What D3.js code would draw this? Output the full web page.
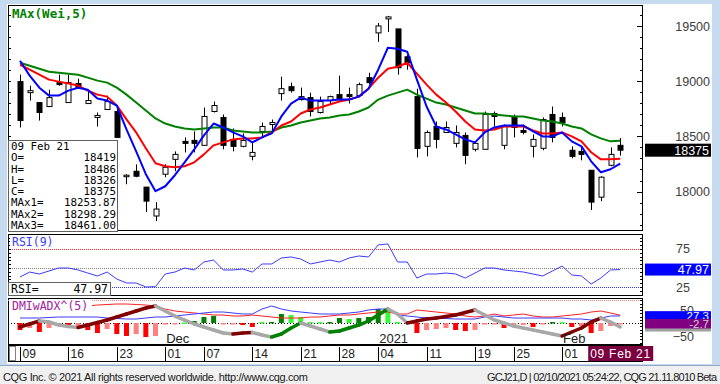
<!DOCTYPE html>
<html><head><meta charset="utf-8">
<script src="https://cdn.jsdelivr.net/npm/d3@7"></script>
<style>
html,body{margin:0;padding:0;background:#f0f0f0;overflow:hidden;}
svg{display:block;}
</style></head><body>
<svg id="c" width="720" height="384"></svg>
<script>
// ---------- DATA ----------
const dates = ["2020-11-09","2020-11-10","2020-11-11","2020-11-12","2020-11-13","2020-11-16","2020-11-17","2020-11-18","2020-11-19","2020-11-20",
"2020-11-23","2020-11-24","2020-11-25","2020-11-27","2020-11-30","2020-12-01","2020-12-02","2020-12-03","2020-12-04","2020-12-07",
"2020-12-08","2020-12-09","2020-12-10","2020-12-11","2020-12-14","2020-12-15","2020-12-16","2020-12-17","2020-12-18","2020-12-21",
"2020-12-22","2020-12-23","2020-12-24","2020-12-28","2020-12-29","2020-12-30","2020-12-31","2021-01-04","2021-01-05","2021-01-06",
"2021-01-07","2021-01-08","2021-01-11","2021-01-12","2021-01-13","2021-01-14","2021-01-15","2021-01-19","2021-01-20","2021-01-21",
"2021-01-22","2021-01-25","2021-01-26","2021-01-27","2021-01-28","2021-01-29","2021-02-01","2021-02-02","2021-02-03","2021-02-04",
"2021-02-05","2021-02-08","2021-02-09"];
const open  = [18997,18897,18807,18771,18988,18807,18979,18798,18672,18744,18726,18139,18184,18040,17778,18157,18292,18455,18464,18419,18726,18672,18473,18410,18319,18545,18608,18888,18951,18834,18852,18717,18825,18879,18879,18870,19033,19439,19566,19475,19222,18861,18410,18590,18536,18437,18509,18383,18383,18708,18419,18681,18554,18410,18392,18699,18672,18374,18364,18193,17949,18238,18419];
const high  = [19060,18960,18807,18924,19060,19060,19024,18906,18717,18870,18762,18157,18247,18040,17904,18247,18364,18491,18545,18762,18816,18699,18572,18527,18446,18626,18653,19042,18988,18943,18897,18861,18870,19051,18943,18988,19078,19529,19593,19475,19240,18933,18554,18635,18635,18599,18536,18455,18726,18726,18608,18699,18608,18518,18672,18771,18717,18410,18410,18193,18139,18401,18486];
const low   = [18581,18825,18644,18771,18960,18807,18934,18798,18590,18744,18491,18066,18130,17814,17733,18130,18184,18355,18355,18419,18717,18383,18364,18401,18283,18491,18545,18825,18897,18825,18681,18708,18789,18825,18798,18861,18970,19358,19448,19060,19105,18310,18319,18392,18536,18401,18247,18364,18383,18590,18383,18491,18518,18310,18374,18446,18590,18301,18283,17832,17913,18229,18326];
const close = [18644,18915,18717,18852,18970,18988,18943,18825,18690,18816,18491,18148,18139,17913,17841,18220,18337,18437,18437,18681,18780,18419,18410,18464,18355,18590,18626,18933,18915,18861,18726,18816,18861,18834,18861,18970,18988,19502,19584,19123,19168,18391,18536,18473,18581,18536,18328,18437,18699,18681,18590,18581,18536,18473,18653,18491,18626,18319,18337,17904,18130,18337,18375];
const maFast = [19186,19051,18942,18870,18870,18915,18942,18924,18843,18825,18780,18563,18365,18157,18003,18048,18148,18265,18383,18509,18617,18581,18536,18500,18446,18491,18527,18681,18798,18852,18825,18825,18825,18834,18834,18861,18933,19105,19304,19295,19268,19015,18771,18590,18563,18518,18473,18446,18536,18581,18599,18599,18599,18545,18500,18500,18536,18455,18410,18274,18175,18202,18253.87];
const maMid  = [19150,19105,19060,19015,18997,18979,18961,18915,18879,18861,18780,18654,18536,18392,18256,18229,18220,18229,18265,18337,18419,18446,18473,18482,18482,18491,18536,18599,18635,18708,18744,18762,18789,18816,18834,18861,18933,19033,19114,19132,19168,19069,18970,18879,18807,18726,18635,18563,18554,18563,18590,18590,18590,18554,18527,18527,18536,18500,18455,18356,18292,18292,18298.29];
const maSlow = [19168,19141,19114,19087,19078,19069,19060,19033,19006,18988,18942,18879,18807,18735,18663,18617,18590,18572,18563,18572,18581,18581,18554,18545,18536,18536,18545,18581,18599,18626,18644,18663,18672,18690,18699,18726,18762,18834,18870,18897,18924,18879,18843,18807,18789,18762,18735,18708,18708,18699,18690,18681,18681,18663,18644,18635,18617,18590,18572,18518,18482,18455,18461.00];
const rsi = [38.2,44.7,42.1,46.1,50,50,47.4,43.4,39.5,44.7,35.5,30.3,30.3,25,25.5,42.1,44.7,50,47.4,57.9,60.5,47.4,47.4,48.7,44.7,55.3,55.3,63.2,64.5,61.8,55.3,57.9,60.5,57.9,63.2,65.8,64.5,80.3,81.6,57.9,57.9,36.8,42.1,42.1,43.4,42.1,36.8,43.4,50,50,47.4,46.1,44.7,42.1,39.5,46.1,52.6,40.8,39.5,28.9,36.8,47.4,47.97];
const diPlus = [19.2,19.2,19.2,21.2,23.1,23.1,23.1,23.1,23.1,19.2,17.3,15.4,15.4,19.2,23.1,23.1,26.9,30.8,34.6,38.5,42.3,42.3,38.5,34.6,34.6,53.8,65.4,53.8,46.2,42.3,38.5,34.6,34.6,34.6,38.5,42.3,50,53.8,53.8,30.8,26.9,23.1,19.2,19.2,17.3,15.4,15.4,15.4,23.1,26.9,23.1,19.2,19.2,19.2,19.2,19.2,19.2,15.4,15.4,11.5,19.2,26.9,27.3];
const diMinus = [46.2,50,51.9,53.8,55.8,57.7,61.5,65.4,69.2,71.2,73.1,73.1,71.2,69.2,65.4,53.8,46.2,42.3,38.5,34.6,30.8,30.8,26.9,26.9,30.8,26.9,23.1,19.2,19.2,19.2,23.1,23.1,26.9,30.8,30.8,34.6,38.5,42.3,42.3,34.6,34.6,50,46.2,42.3,38.5,34.6,26.9,23.1,26.9,34.6,26.9,30.8,34.6,26.9,23.1,23.1,26.9,30.8,34.6,42.3,46.2,38.5,30.0];
const dmiOsc = [-26.9,-19.2,-34.6,-19.2,-11.5,-19.2,-15.4,-26.9,-38.5,-23.1,-42.3,-50,-42.3,-53.8,-50,-3.8,-3,2,7.7,23.1,26.9,-3.8,-3,-7.7,-15.4,3.8,4.2,34.6,30.8,23.1,3.8,3.5,3.8,19.2,15.4,19.2,23.1,53.8,46.2,3.8,3.5,-38.5,-26.9,-23.1,-19.2,-26.9,-30.8,-26.9,-3.8,-1,-19.2,-7.7,-7.3,-15.4,-3.8,3.8,3.5,-15.4,-11.5,-38.5,-30.8,-11.5,-2.7];
const adx = [-15.4,-3.8,7.7,3.8,-7.7,-13.5,-17.3,-7.7,1.9,11.5,23.1,34.6,46.2,57.7,65.4,46.2,26.9,11.5,-3.8,-15.4,-26.9,-38.5,-42.3,-38.5,-36.5,-46.2,-53.8,-42.3,-19.2,0,-11.5,-23.1,-34.6,-30.8,-19.2,-7.7,7.7,30.8,53.8,34.6,0,7.7,15.4,19.2,25,30.8,40.4,50,30.8,11.5,0,-11.5,-19.2,-26.9,-34.6,-42.3,-50,-34.6,-19.2,3.8,19.2,3.8,-15.4];
const priceTicks = [18000,18500,19000,19500];
const rsiTicks = [25,75];
const rsiLevels = [75,50,25];
const dmiTicks = [50,-50];
const dateTicks = [{i:0,t:"09"},{i:5,t:"16"},{i:10,t:"23"},{i:15,t:"01"},{i:19,t:"07"},{i:24,t:"14"},{i:29,t:"21"},{i:33,t:"28"},{i:37,t:"04"},{i:42,t:"11"},{i:47,t:"19"},{i:51,t:"25"},{i:56,t:"01"}];
const lastDateLabel = "09 Feb 21";
const monthLabels = [{i:15,t:"Dec"},{i:37,t:"2021"},{i:56,t:"Feb"}];
const footerLeft = "CQG Inc. \u00A9 2021 All rights reserved worldwide. http://www.cqg.com";
const footerRight = "GCJ21,D | 02/10/2021 05:24:22, CQG 21.11.8010 Beta";

// ---------- LAYOUT ----------
const svg = d3.select("#c");
const PL = 8, PR = 643;
const mainP = {t:5, b:231}, rsiP = {t:234, b:296}, dmiP = {t:298, b:345}, dateP = {t:345, b:362};
const n = dates.length, last = n - 1;
const x = d3.scaleLinear().domain([0, last]).range([20, 620.2]);
const yP = d3.scaleLinear().domain([17642, 19692]).range([mainP.b, mainP.t]);
const yR = d3.scaleLinear().domain([13.2, 94.7]).range([rsiP.b, rsiP.t]);
const yD = d3.scaleLinear().domain([-84.6, 96.2]).range([dmiP.b, dmiP.t]);
const MONO = "'DejaVu Sans Mono', monospace";
const SANS = "'Liberation Sans', Arial, sans-serif";

svg.append("rect").attr("width",720).attr("height",384).attr("fill","#f0f0f0");
svg.append("rect").attr("x",0).attr("y",0).attr("width",720).attr("height",366).attr("fill","#c7dbf0");
svg.append("rect").attr("x",7).attr("y",4).attr("width",705).attr("height",360).attr("fill","#ffffff");
svg.append("line").attr("x1",0).attr("x2",720).attr("y1",365.5).attr("y2",365.5).attr("stroke","#8fa8c8");

const defs = svg.append("defs");
function panel(id, p) {
  defs.append("clipPath").attr("id", id).append("rect")
    .attr("x", PL).attr("y", p.t).attr("width", PR-PL).attr("height", p.b-p.t);
  svg.append("rect").attr("x", PL+0.5).attr("y", p.t+0.5).attr("width", PR-PL-1).attr("height", p.b-p.t-1)
    .attr("fill", "#fff").attr("stroke", "#000");
  return svg.append("g").attr("clip-path", `url(#${id})`);
}
function ticks(scale, values, xEdge, len, dir) {
  const g = svg.append("g");
  values.forEach(v => {
    const yy = Math.round(scale(v)) + 0.5;
    g.append("line").attr("x1", xEdge).attr("x2", xEdge + dir*len).attr("y1", yy).attr("y2", yy).attr("stroke", "#000");
  });
}
function axisLabels(scale, values, xRight, fmt) {
  svg.append("g").attr("transform",`translate(${xRight},0)`)
    .call(d3.axisLeft(scale).tickValues(values).tickSize(0).tickPadding(0).tickFormat(fmt))
    .call(g=>g.select(".domain").remove())
    .call(g=>g.selectAll("text").attr("font-family",SANS).attr("font-size",12.5).attr("fill","#404040"));
}

// ---------- MAIN PANEL ----------
const gM = panel("cm", mainP);
ticks(yP, d3.range(17700,19700,100), PR, 3, -1);
ticks(yP, priceTicks, PR, 6, -1);
ticks(yP, d3.range(17700,19700,100), PL, 3, 1);
axisLabels(yP, priceTicks, 710, d3.format("d"));

const cw = 5;
const cg = gM.append("g");
d3.range(n).forEach(i => {
  const cx = Math.round(x(i)) + 0.5;
  cg.append("line").attr("x1",cx).attr("x2",cx).attr("y1",yP(high[i])).attr("y2",yP(low[i]))
    .attr("stroke","#000").attr("stroke-width",1);
  const top = yP(Math.max(open[i],close[i])), bot = yP(Math.min(open[i],close[i]));
  const up = close[i] >= open[i];
  cg.append("rect").attr("x",cx-cw/2).attr("y",top).attr("width",cw).attr("height",Math.max(1.5,bot-top))
    .attr("fill", up ? "#fff" : "#000").attr("stroke","#000").attr("stroke-width",1);
});
const lineP = arr => d3.line().x((d,i)=>x(i)).y(d=>yP(d))(arr);
[[maSlow,"#008000"],[maMid,"#ff0000"],[maFast,"#0000ff"]].forEach(([arr,c])=>{
  gM.append("path").attr("d",lineP(arr)).attr("fill","none").attr("stroke",c).attr("stroke-width",2).attr("stroke-linejoin","round");
});
svg.append("text").attr("x",12).attr("y",18).text("MAx(Wei,5)")
  .attr("font-family",MONO).attr("font-size",12.5).attr("font-weight","bold").attr("fill","#008000");
const ib = {x:8, y:140, w:109, h:91};
svg.append("rect").attr("x",ib.x+0.5).attr("y",ib.y+0.5).attr("width",ib.w).attr("height",ib.h)
  .attr("fill","#fff").attr("stroke","#606060");
const infoRows = [["09 Feb 21",""],["O=",String(open[last])],["H=",String(high[last])],["L=",String(low[last])],["C=",String(close[last])],
  ["MAx1=",maFast[last].toFixed(2)],["MAx2=",maMid[last].toFixed(2)],["MAx3=",maSlow[last].toFixed(2)]];
infoRows.forEach((r,k)=>{
  const yy = 150 + k*11.25;
  svg.append("text").attr("x",11).attr("y",yy).text(r[0]).attr("font-family",MONO).attr("font-size",10.8).attr("fill","#000");
  if (r[1]) svg.append("text").attr("x",116).attr("y",yy).attr("text-anchor","end").text(r[1])
    .attr("font-family",MONO).attr("font-size",10.8).attr("fill","#000");
});
function valBox(yc, txt, fill, tcol, h, fs) {
  svg.append("rect").attr("x",645).attr("y",yc-h/2).attr("width",66).attr("height",h).attr("fill",fill);
  if (txt) svg.append("text").attr("x",709).attr("y",yc).attr("dy","0.36em").attr("text-anchor","end").text(txt)
    .attr("font-family",SANS).attr("font-size",fs||12.5).attr("fill",tcol);
}
valBox(yP(close[last]), String(close[last]), "#000", "#fff", 13);

// ---------- RSI PANEL ----------
const gR = panel("cr", rsiP);
const lvlCol = {75:"#ff2020",50:"#808080",25:"#3030ff"};
rsiLevels.forEach(v=>{
  gR.append("line").attr("x1",PL).attr("x2",PR).attr("y1",Math.round(yR(v))+0.5).attr("y2",Math.round(yR(v))+0.5)
    .attr("stroke",lvlCol[v]).attr("stroke-dasharray","1,1");
});
gR.append("path").attr("d", d3.line().x((d,i)=>x(i)).y(d=>yR(d))(rsi)).attr("fill","none").attr("stroke","#3a3aff").attr("stroke-width",1);
ticks(yR, d3.range(20,95,5), PR, 3, -1);
ticks(yR, d3.range(20,95,5), PL, 3, 1);
axisLabels(yR, rsiTicks, 690, d3.format("d"));
svg.append("rect").attr("x",10).attr("y",236).attr("width",46).attr("height",13).attr("fill","#fff");
svg.append("text").attr("x",12).attr("y",246).text("RSI(9)").attr("font-family",MONO).attr("font-size",11.5).attr("fill","#3a3aff");
svg.append("rect").attr("x",8.5).attr("y",282.5).attr("width",102).attr("height",13).attr("fill","#fff").attr("stroke","#606060");
svg.append("text").attr("x",11).attr("y",293).text("RSI=").attr("font-family",MONO).attr("font-size",11.5).attr("fill","#000");
svg.append("text").attr("x",108).attr("y",293).attr("text-anchor","end").text(rsi[last].toFixed(2)).attr("font-family",MONO).attr("font-size",11.5).attr("fill","#000");
valBox(yR(rsi[last]), rsi[last].toFixed(2), "#0000ff", "#fff", 12);

// ---------- DMI PANEL ----------
const gD = panel("cd", dmiP);
gD.append("line").attr("x1",PL).attr("x2",PR).attr("y1",300.5).attr("y2",300.5).attr("stroke","#ff8080").attr("stroke-dasharray","1,1");
gD.append("line").attr("x1",PL).attr("x2",PR).attr("y1",Math.round(yD(0))+0.5).attr("y2",Math.round(yD(0))+0.5).attr("stroke","#000").attr("stroke-dasharray","1,2");
dmiOsc.forEach((v,i)=>{
  const prev = i>0 ? dmiOsc[i-1] : 0;
  const stronger = Math.abs(v) >= Math.abs(prev);
  const col = v >= 0 ? (stronger ? "#008000" : "#33ff33") : (stronger ? "#ff0000" : "#ff8080");
  const y0 = yD(0), y1 = yD(v);
  gD.append("rect").attr("x",x(i)-2.5).attr("y",Math.min(y0,y1)).attr("width",5).attr("height",Math.max(1.5,Math.abs(y1-y0))).attr("fill",col);
});
gD.append("path").attr("d", d3.line().x((d,i)=>x(i)).y(d=>yD(d))(diMinus)).attr("fill","none").attr("stroke","#ff2020").attr("stroke-width",1);
gD.append("path").attr("d", d3.line().x((d,i)=>x(i)).y(d=>yD(d))(diPlus)).attr("fill","none").attr("stroke","#3a3aff").attr("stroke-width",1);
for (let i=1;i<n;i++){
  const rising = adx[i] > adx[i-1];
  const col = !rising ? "#a8a8a8" : (dmiOsc[i] >= 0 ? "#008000" : "#800000");
  gD.append("line").attr("x1",x(i-1)).attr("y1",yD(adx[i-1])).attr("x2",x(i)).attr("y2",yD(adx[i]))
    .attr("stroke",col).attr("stroke-width",3.5).attr("stroke-linecap","round");
}
monthLabels.forEach(m=>{
  svg.append("text").attr("x",x(m.i)+1).attr("y",343).text(m.t).attr("font-family",SANS).attr("font-size",13).attr("fill","#202020");
});
ticks(yD, d3.range(-75,100,12.5), PR, 3, -1);
axisLabels(yD, dmiTicks, 694, d3.format("d"));
svg.append("rect").attr("x",10).attr("y",300).attr("width",82).attr("height",13).attr("fill","#fff");
svg.append("text").attr("x",12).attr("y",310).text("DMIwADX^(5)").attr("font-family",MONO).attr("font-size",11.5).attr("fill","#a020a0");
valBox(yD(adx[last]), "", "#a0a0a0", "#fff", 9);
valBox(yD(diPlus[last]), diPlus[last].toFixed(1), "#0000ff", "#fff", 9.5, 11.5);
valBox(yD(dmiOsc[last]), dmiOsc[last].toFixed(1), "#800080", "#d0d0d0", 9.5, 11.5);

// ---------- DATE ROW ----------
svg.append("rect").attr("x",PL+0.5).attr("y",dateP.t+0.5).attr("width",PR-PL-1).attr("height",dateP.b-dateP.t-1).attr("fill","#fff").attr("stroke","#000");
svg.append("rect").attr("x",PL+1.5).attr("y",dateP.t+1.5).attr("width",6).attr("height",dateP.b-dateP.t-3).attr("fill","#fff").attr("stroke","#808080");
dateTicks.forEach(d=>{
  const tx = Math.round(x(d.i))+0.5;
  svg.append("line").attr("x1",tx).attr("x2",tx).attr("y1",dateP.t+2).attr("y2",dateP.b-1).attr("stroke","#000");
  svg.append("text").attr("x",tx+2).attr("y",357.5).text(d.t).attr("font-family",SANS).attr("font-size",12).attr("fill","#202020");
});
svg.append("rect").attr("x",x(last)-32).attr("y",dateP.t+1).attr("width",65).attr("height",dateP.b-dateP.t-2).attr("fill","#7a0040");
svg.append("text").attr("x",x(last)-30).attr("y",357.5).text(lastDateLabel).attr("textLength",60).attr("font-family",SANS).attr("font-size",12).attr("fill","#fff");

// ---------- FOOTER ----------
svg.append("text").attr("x",3).attr("y",381).text(footerLeft).attr("textLength",305).attr("font-family",SANS).attr("font-size",11).attr("fill","#202020");
svg.append("text").attr("x",487).attr("y",381).text(footerRight).attr("textLength",230).attr("font-family",SANS).attr("font-size",11).attr("fill","#202020");
</script>
</body></html>
